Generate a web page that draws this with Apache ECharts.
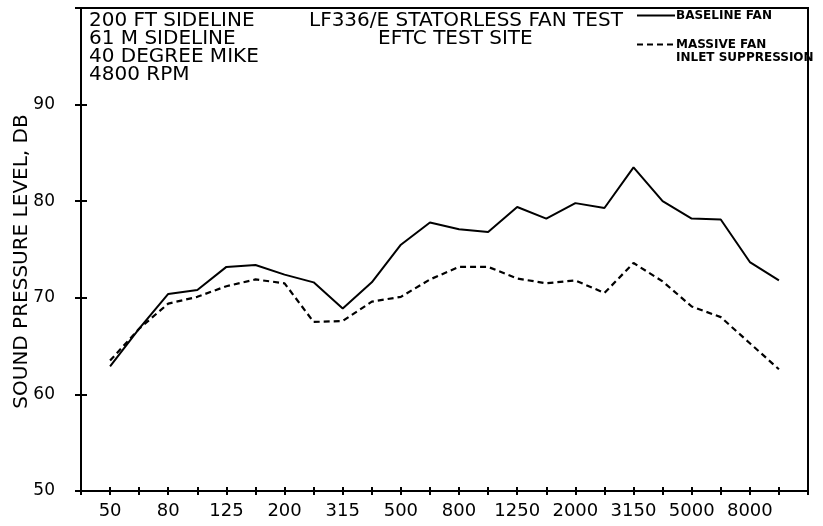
<!DOCTYPE html>
<html>
<head>
<meta charset="utf-8">
<script src="https://cdn.jsdelivr.net/npm/echarts@6/dist/echarts.min.js"></script>
<style>
  html, body { margin: 0; padding: 0; background: #fff; }
  #chart { width: 823px; height: 526px; }
</style>
</head>
<body>
<div id="chart"></div>
<script>
// One-third octave band centre frequencies (Hz); blank slots pad both ends of the axis
const bands = ['', '50', '63', '80', '100', '125', '160', '200', '250', '315', '400', '500', '630',
  '800', '1000', '1250', '1600', '2000', '2500', '3150', '4000', '5000', '6300', '8000', '10000', ''];

// Sound pressure level, dB, per band (50 Hz .. 10000 Hz)
const baselineFan = [62.9, 66.8, 70.4, 70.8, 73.2, 73.4, 72.4, 71.6, 68.9, 71.6, 75.5, 77.8,
  77.1, 76.8, 79.4, 78.2, 79.8, 79.3, 83.5, 80.0, 78.2, 78.1, 73.7, 71.8];
const massiveFanInletSuppression = [63.5, 66.8, 69.4, 70.1, 71.2, 71.9, 71.5, 67.5, 67.6, 69.6, 70.1, 71.9,
  73.2, 73.2, 72.0, 71.5, 71.8, 70.5, 73.6, 71.7, 69.1, 68.0, 65.3, 62.6];

const yTicks = [50, 60, 70, 80, 90];

const FONT = "'DejaVu Sans', sans-serif";
const pad = arr => [null].concat(arr, [null]);

const NAME_BASE = 'BASELINE FAN';
const NAME_SUPP = 'MASSIVE FAN\nINLET SUPPRESSION';

const chart = echarts.init(document.getElementById('chart'));

const xBase = {
  type: 'category',
  data: bands,
  boundaryGap: false,
  axisLine: { show: true, lineStyle: { color: '#000', width: 2 } },
  splitLine: { show: false }
};
const yBase = {
  type: 'value',
  min: 50,
  max: 100,
  interval: 10,
  axisLine: { show: true, lineStyle: { color: '#000', width: 2 } },
  splitLine: { show: false }
};
const headText = { fontFamily: FONT, fontSize: 20, fontWeight: 'normal', color: '#000', lineHeight: 18 };

chart.setOption({
  animation: false,
  backgroundColor: '#fff',
  grid: {
    left: 81, right: 15, top: 8, bottom: 35,
    containLabel: false,
    outerBoundsMode: 'none',
    show: true, borderColor: '#000', borderWidth: 2, backgroundColor: 'transparent'
  },
  title: [
    { text: '200 FT SIDELINE\n61 M SIDELINE\n40 DEGREE MIKE\n4800 RPM', left: 89, top: 12, padding: 0, textStyle: headText },
    { text: 'LF336/E STATORLESS FAN TEST', left: 309, top: 12, padding: 0, textStyle: headText },
    { text: 'EFTC TEST SITE', left: 378, top: 30, padding: 0, textStyle: headText }
  ],
  legend: {
    orient: 'vertical',
    left: 636, top: 9,
    itemWidth: 38, itemHeight: 14, itemGap: 3,
    padding: 0,
    itemStyle: { color: 'transparent', borderWidth: 0, opacity: 0 },
    // the second entry gets an empty first line so its key sits beside "MASSIVE FAN"
    formatter: name => (name === NAME_SUPP ? '\n' + name : name),
    textStyle: { fontFamily: FONT, fontSize: 12, fontWeight: 'bold', color: '#000', lineHeight: 13, padding: [0, 0, 0, -4] },
    data: [NAME_BASE, NAME_SUPP]
  },
  xAxis: [
    Object.assign({}, xBase, {
      axisTick: { show: true, interval: 0, length: 4, lineStyle: { color: '#000', width: 2 } },
      axisLabel: {
        interval: i => i % 2 === 1,
        margin: 11,
        fontFamily: FONT, fontSize: 18, color: '#000'
      }
    }),
    Object.assign({}, xBase, {
      position: 'bottom',
      axisTick: { show: true, inside: true, interval: 0, length: 4, lineStyle: { color: '#000', width: 2 } },
      axisLabel: { show: false }
    })
  ],
  yAxis: [
    Object.assign({}, yBase, {
      name: 'SOUND PRESSURE LEVEL, DB',
      nameLocation: 'middle',
      nameGap: 49,
      nameMoveOverlap: false,
      nameTextStyle: { fontFamily: FONT, fontSize: 20, color: '#000', padding: [0, 24, 0, 0] },
      axisTick: { show: true, length: 6, lineStyle: { color: '#000', width: 2 } },
      axisLabel: {
        margin: 26,
        fontFamily: FONT, fontSize: 17, color: '#000',
        formatter: v => (yTicks.indexOf(v) >= 0 ? String(v) : '')
      }
    }),
    Object.assign({}, yBase, {
      position: 'left',
      axisTick: { show: true, inside: true, length: 6, lineStyle: { color: '#000', width: 2 } },
      axisLabel: { show: false }
    })
  ],
  series: [
    {
      name: NAME_BASE,
      type: 'line',
      data: pad(baselineFan),
      symbol: 'none',
      color: '#000',
      lineStyle: { color: '#000', width: 2 }
    },
    {
      name: NAME_SUPP,
      type: 'line',
      data: pad(massiveFanInletSuppression),
      symbol: 'none',
      color: '#000',
      lineStyle: { color: '#000', width: 2.2, type: [6, 4] }
    }
  ]
});
</script>
</body>
</html>
